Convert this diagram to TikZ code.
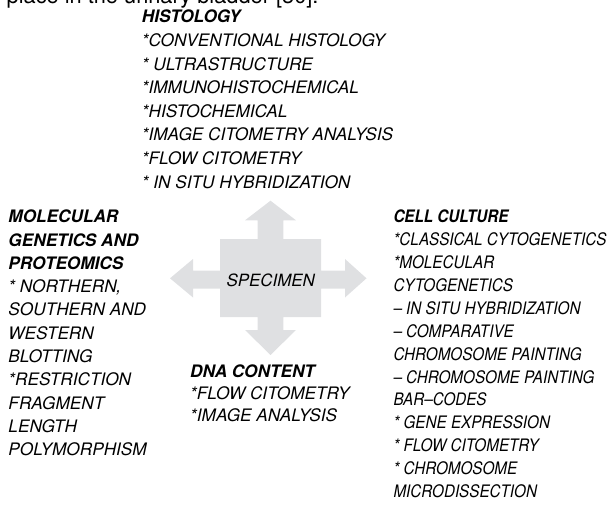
\documentclass[tikz,border=0pt]{standalone}
\usepackage{fontspec}
\setmainfont{TeX Gyre Heros}
\definecolor{crossgrey}{RGB}{223,224,226}
\begin{document}
\begin{tikzpicture}[x=1pt,y=-1pt,
  block/.style={anchor=base west,align=left,inner sep=0pt,font=\fontsize{17.2}{#1}\selectfont\itshape},
  narrowblock/.style={block=#1,font=\fontsize{17.2}{#1}\selectfont\itshape\addfontfeatures{FakeStretch=0.885}}]
\useasboundingbox (0,0) rectangle (608,508);
\node[anchor=base west,inner sep=0pt,font=\fontsize{21.8}{26}\selectfont] (bladder) at (6.5,4) {place in the urinary bladder [30].};
\path[fill=crossgrey] (270.5,200.7) -- (296,220.3) -- (283.3,220.3) -- (283.3,239) -- (321,239) -- (321,270.5) -- (345,270.5) -- (345,259) -- (366.5,278.3) -- (345,297.5) -- (345,288.5) -- (321,288.5) -- (321,317) -- (283.3,317) -- (283.3,330) -- (296,330) -- (270.5,355) -- (245,330) -- (257.7,330) -- (257.7,317) -- (220,317) -- (220,288.5) -- (193,288.5) -- (193,297.5) -- (170,278.3) -- (193,259) -- (193,270.5) -- (220,270.5) -- (220,239) -- (257.7,239) -- (257.7,220.3) -- (245,220.3) -- cycle;
\node[anchor=base,inner sep=0pt,font=\fontsize{16.9}{20}\selectfont\itshape] (specimen) at (270.8,286.7) {SPECIMEN};
\node[block=23.6] (histology) at (141.7,188.2) {\textbf{HISTOLOGY}\\
*CONVENTIONAL HISTOLOGY\\
* ULTRASTRUCTURE\\
*IMMUNOHISTOCHEMICAL\\
*HISTOCHEMICAL\\
*IMAGE CITOMETRY ANALYSIS\\
*FLOW CITOMETRY\\
* IN SITU HYBRIDIZATION};
\node[block=23.3] (molecular) at (8.3,455.7) {\textbf{MOLECULAR}\\
\textbf{GENETICS AND}\\
\textbf{PROTEOMICS}\\
* NORTHERN,\\
SOUTHERN AND\\
WESTERN\\
BLOTTING\\
*RESTRICTION\\
FRAGMENT\\
LENGTH\\
POLYMORPHISM};
\node[narrowblock=22.9] (culture) at (393.3,497.5) {\textbf{CELL CULTURE}\\
*CLASSICAL CYTOGENETICS\\
*MOLECULAR\\
CYTOGENETICS\\
-- IN SITU HYBRIDIZATION\\
-- COMPARATIVE\\
CHROMOSOME PAINTING\\
-- CHROMOSOME PAINTING\\
BAR--CODES\\
* GENE EXPRESSION\\
* FLOW CITOMETRY\\
* CHROMOSOME\\
MICRODISSECTION};
\node[block=22.2] (dna) at (190,421.9) {\textbf{DNA CONTENT}\\
*FLOW CITOMETRY\\
*IMAGE ANALYSIS};
\end{tikzpicture}
\end{document}
